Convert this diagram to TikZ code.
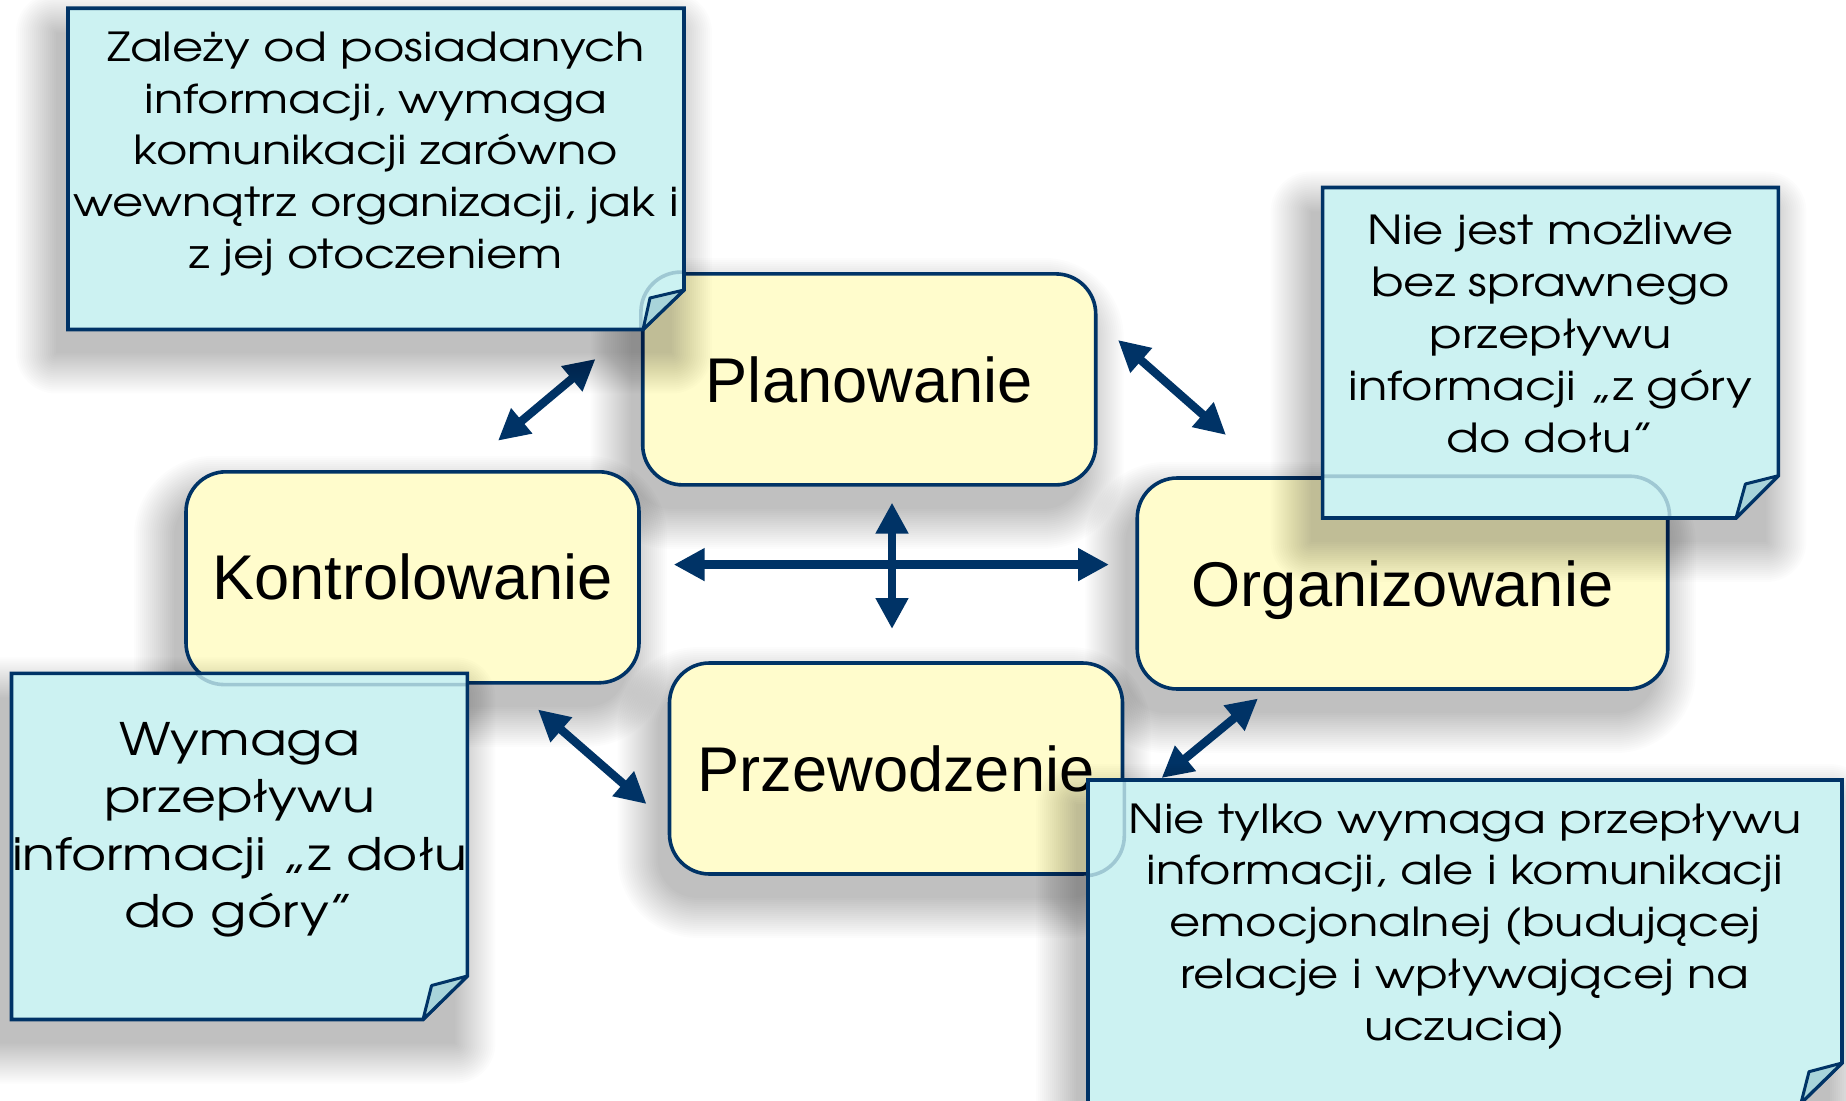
\documentclass[tikz,border=0pt]{standalone}
\usepackage{fontspec}
\setmainfont{Liberation Sans}
\newfontfamily\notefont[FakeStretch=1.2]{texgyreadventor-regular.otf}
\usetikzlibrary{arrows.meta}
\definecolor{navy}{RGB}{0,51,102}
\definecolor{boxfill}{RGB}{255,252,204}
\definecolor{notefill}{RGB}{204,242,242}
\definecolor{flapfill}{RGB}{168,212,218}

% soft drop shadow: stacked faint layers behind a rectangle
% #1,#2 = top-left corner, #3,#4 = bottom-right corner (px), #5 = corner radius (pt)
\newcommand{\castshadow}[5]{%
  \foreach \d in {0,2,...,40} {%
    \pgfmathsetmacro{\rr}{#5+0.5*\d+0.01}%
    \fill[black, fill opacity=0.0136, rounded corners=\rr pt]
      (#1-12-\d, #2+24-\d) rectangle (#3-12+\d, #4+24+\d);
  }%
}

\begin{document}
\begin{tikzpicture}[x=0.5pt,y=-0.5pt,
  stage/.style={draw=navy, line width=1.8pt, fill=boxfill, rounded corners=20pt,
    minimum width=226.5pt, minimum height=105.5pt, inner sep=0pt,
    font=\fontsize{31.6}{38}\selectfont, text height=22.6pt, text depth=0pt},
  link/.style={navy, line width=4.2pt,
    {Triangle[length=15.5pt,width=15.5pt]}-{Triangle[length=15.5pt,width=15.5pt]}},
  notebody/.style={draw=navy, line width=1.8pt, fill=notefill, line join=miter},
  flap/.style={draw=navy, line width=1.5pt, fill=flapfill, line join=round},
  seethrough/.style={draw=navy, line width=1.8pt, rounded corners=20pt, draw opacity=0.22},
  notetext/.style={font=\notefont\fontsize{20}{25.9}\selectfont, align=center, anchor=north, inner sep=0pt},
  bignotetext/.style={font=\notefont\fontsize{22.4}{28.7}\selectfont, align=center, anchor=north, inner sep=0pt},
]
% canvas
\clip (0,0) rectangle (1846,1101);
\fill[white] (0,0) rectangle (1846,1101);

% shadows of the four boxes
\castshadow{642.7}{273.9}{1095.7}{484.9}{20}
\castshadow{186}{471.8}{639}{682.8}{20}
\castshadow{1137.25}{478}{1667.75}{689}{20}
\castshadow{669.5}{663.1}{1122.5}{873.9}{20}

% the four management functions
\node[stage] (plan)  at (869.2,379.4) {Planowanie};
\node[stage] (kontr) at (412.5,577.3) {Kontrolowanie};
\node[stage, minimum width=265.25pt] (org) at (1402.5,583.5) {Organizowanie};
\node[stage] (przew) at (896,768.5) {Przewodzenie};

% arrow end points
\coordinate (a1s) at (498,440.7);   \coordinate (a1e) at (595.5,359);
\coordinate (a2s) at (1118,340);    \coordinate (a2e) at (1226,435);
\coordinate (a3s) at (673.7,564.6); \coordinate (a3e) at (1109,564.6);
\coordinate (a4s) at (892,502.6);   \coordinate (a4e) at (892,629);
\coordinate (a5s) at (538,709.5);   \coordinate (a5e) at (646.5,804);
\coordinate (a6s) at (1258,698.5);  \coordinate (a6e) at (1161.6,778);

\draw[link] (a1s) -- (a1e);
\draw[link] (a2s) -- (a2e);
\draw[link] (a3s) -- (a3e);
\draw[link] (a4s) -- (a4e);
\draw[link] (a5s) -- (a5e);
\draw[link] (a6s) -- (a6e);

% shadows of the sticky notes
\castshadow{68}{8.3}{684}{329.5}{0}
\castshadow{1322.6}{187.5}{1778.4}{518}{0}
\castshadow{11.5}{673.3}{467.4}{1019.5}{0}
\castshadow{1088}{780}{1842}{1103}{0}

% sticky notes
\draw[notebody] (68,8.3) -- (684,8.3) -- (684,290) -- (643,329.5) -- (68,329.5) -- cycle;
\draw[flap] (684,290) -- (650,298) -- (643,329.5) -- cycle;

\draw[notebody] (1322.6,187.5) -- (1778.4,187.5) -- (1778.4,475.7) -- (1736,518) -- (1322.6,518) -- cycle;
\draw[flap] (1778.4,475.7) -- (1745.4,484) -- (1736,518) -- cycle;

\draw[notebody] (11.5,673.3) -- (467.4,673.3) -- (467.4,976) -- (423,1019.5) -- (11.5,1019.5) -- cycle;
\draw[flap] (467.4,976) -- (431.6,985.5) -- (423,1019.5) -- cycle;

\draw[notebody] (1088,780) -- (1842,780) -- (1842,1063) -- (1801,1103) -- (1088,1103) -- cycle;
\draw[flap] (1842,1063) -- (1809,1071.7) -- (1801,1103) -- cycle;

% box outlines showing faintly through the notes
\begin{scope}
  \clip (68,8.3) rectangle (684,329.5);
  \draw[seethrough] (plan.south west) rectangle (plan.north east);
\end{scope}
\begin{scope}
  \clip (1322.6,187.5) rectangle (1778.4,518);
  \draw[seethrough] (org.south west) rectangle (org.north east);
\end{scope}
\begin{scope}
  \clip (11.5,673.3) rectangle (467.4,1019.5);
  \draw[seethrough] (kontr.south west) rectangle (kontr.north east);
\end{scope}
\begin{scope}
  \clip (1088,780) rectangle (1842,1103);
  \draw[seethrough] (przew.south west) rectangle (przew.north east);
\end{scope}

% note texts
\node[notetext] (tltext) at (376,24.7) {\strut Zależy od posiadanych\\informacji, wymaga\\komunikacji zarówno\\wewnątrz organizacji, jak i\\z jej otoczeniem};
\node[notetext] (trtext) at (1550.5,208.3) {\strut Nie jest możliwe\\bez sprawnego\\przepływu\\informacji „z góry\\do dołu”};
\node[bignotetext] (bltext) at (239.5,714.8) {\strut Wymaga\\przepływu\\informacji „z dołu\\do góry”};
\node[notetext] (brtext) at (1465,796.4) {\strut Nie tylko wymaga przepływu\\informacji, ale i komunikacji\\emocjonalnej (budującej\\relacje i wpływającej na\\uczucia)};
\end{tikzpicture}
\end{document}
